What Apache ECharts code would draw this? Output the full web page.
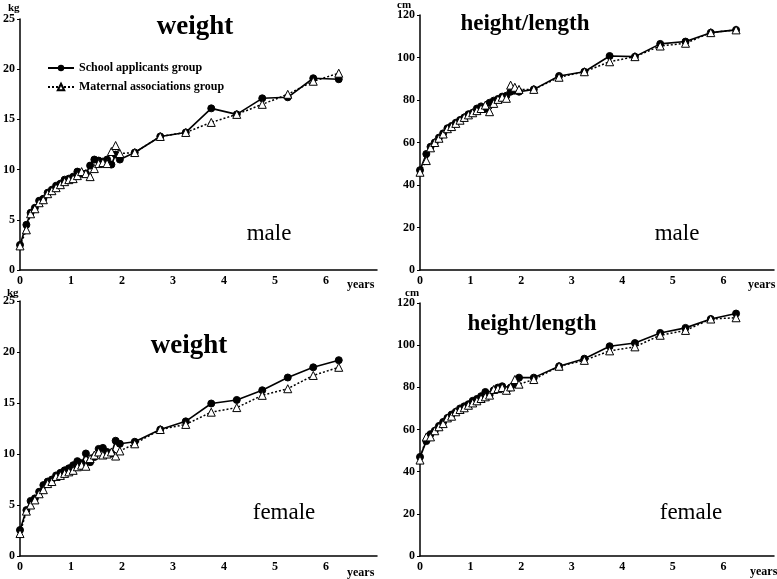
<!DOCTYPE html>
<html><head><meta charset="utf-8">
<script src="https://cdn.jsdelivr.net/npm/echarts@6/dist/echarts.min.js"></script>
<style>html,body{margin:0;padding:0;background:#fff}#c{width:777px;height:579px}</style>
</head><body><div id="c"></div>
<script>
const ages = [0, 0.125, 0.208, 0.292, 0.375, 0.458, 0.542, 0.625, 0.708, 0.792, 0.875, 0.958, 1.042, 1.125, 1.208, 1.292, 1.375, 1.458, 1.542, 1.625, 1.708, 1.792, 1.875, 1.958, 2.25, 2.75, 3.25, 3.75, 4.25, 4.75, 5.25, 5.75, 6.25];
const xTicks = [0, 1, 2, 3, 4, 5, 6];
const seriesNames = ['School applicants group', 'Maternal associations group'];

const maleWeightSchool = [2.5, 4.5, 5.7, 6.2, 6.9, 7.1, 7.7, 8.0, 8.4, 8.6, 9.0, 9.1, 9.3, 9.8, 9.6, 9.6, 10.4, 11.0, 10.9, 10.8, 11.0, 10.5, 11.5, 11.0, 11.7, 13.3, 13.7, 16.1, 15.5, 17.1, 17.2, 19.1, 19.0];
const maleWeightMaternal = [2.4, 4.0, 5.6, 6.1, 6.7, 7.0, 7.6, 7.9, 8.2, 8.5, 8.8, 9.0, 9.1, 9.4, 9.8, 9.6, 9.3, 10.1, 10.6, 10.7, 10.6, 11.8, 12.4, 11.6, 11.7, 13.3, 13.7, 14.7, 15.5, 16.5, 17.5, 18.8, 19.6];
const maleHeightSchool = [47, 54.6, 58, 60, 62.3, 64.3, 66.7, 67.8, 69.3, 70.6, 71.8, 73.3, 74, 76, 77, 75.8, 78.7, 79.7, 80.5, 81.6, 82, 83.9, 84.4, 83.9, 85, 91.3, 93.3, 100.7, 100.4, 106.4, 107.5, 111.7, 113];
const maleHeightMaternal = [46, 51.5, 57.5, 60, 62, 64, 66.5, 67.5, 69, 70.5, 71.8, 73, 74, 75, 76, 77.6, 74.5, 78.4, 80.3, 81.3, 80.8, 87, 86, 85, 85, 90.7, 93.3, 98, 100.4, 105.4, 106.7, 111.7, 113];
const femaleWeightSchool = [2.55, 4.5, 5.4, 5.65, 6.3, 6.95, 7.3, 7.5, 7.9, 8.15, 8.4, 8.6, 8.9, 9.3, 9.1, 10.05, 9.2, 9.7, 10.5, 10.6, 10.2, 10.05, 11.3, 11.0, 11.2, 12.4, 13.2, 14.95, 15.3, 16.25, 17.5, 18.5, 19.2];
const femaleWeightMaternal = [2.2, 4.4, 5.0, 5.5, 6.1, 6.5, 7.1, 7.3, 7.8, 7.9, 8.1, 8.25, 8.4, 8.75, 8.9, 8.8, 9.55, 9.9, 10.2, 9.9, 10.0, 10.2, 9.8, 10.3, 11.0, 12.4, 12.9, 14.1, 14.55, 15.75, 16.4, 17.7, 18.5];
const femaleHeightSchool = [47, 54.5, 57.8, 59.4, 61.7, 63.6, 65.5, 67.1, 68.4, 70, 71, 72, 73.6, 74.5, 75.8, 77.8, 76.3, 78.6, 79.9, 80.5, 78.6, 79.9, 81.5, 84.6, 84.6, 90, 93.6, 99.5, 101, 105.8, 108.2, 112.4, 115];
const femaleHeightMaternal = [45.5, 56.5, 56.5, 59.4, 61.3, 62.8, 65.5, 66.3, 68.4, 69.5, 70.3, 71.5, 72.6, 73.6, 74.7, 75.5, 76.3, 79, 79.4, 79.9, 78.6, 80.2, 83.7, 81.5, 83.7, 90, 92.8, 97.3, 99.2, 104.7, 107, 112.4, 113];

const weightTicks = {min: 0, max: 25, interval: 5};
const heightTicks = {min: 0, max: 120, interval: 20};

const FONT = '"Liberation Serif", "DejaVu Serif", serif';
const pair = arr => arr.map((v, i) => [ages[i], v]);

const grids = [
  {left: 20, top: 19, width: 357, height: 251},
  {left: 420, top: 15, width: 354, height: 255},
  {left: 20, top: 301, width: 357, height: 255},
  {left: 420, top: 303, width: 354, height: 253}
];
const yCfg = [weightTicks, heightTicks, weightTicks, heightTicks];
const panels = [
  [maleWeightSchool, maleWeightMaternal],
  [maleHeightSchool, maleHeightMaternal],
  [femaleWeightSchool, femaleWeightMaternal],
  [femaleHeightSchool, femaleHeightMaternal]
];

const axisLine = {show: true, onZero: false, lineStyle: {color: '#000', width: 1.5}};
const labelStyle = {color: '#000', fontFamily: FONT, fontWeight: 'bold', fontSize: 12};

const xAxis = grids.map((g, i) => ({
  type: 'value', gridIndex: i, min: 0, max: 7, interval: 1,
  axisLine, axisTick: {show: false}, splitLine: {show: false},
  axisLabel: Object.assign({}, labelStyle, {margin: 5, formatter: v => xTicks.includes(v) ? String(v) : ''})
}));
const yAxis = grids.map((g, i) => ({
  type: 'value', gridIndex: i, min: yCfg[i].min, max: yCfg[i].max, interval: yCfg[i].interval,
  axisLine, axisTick: {show: true, length: 3, lineStyle: {color: '#000'}}, splitLine: {show: false},
  axisLabel: Object.assign({}, labelStyle, {margin: 5})
}));

const series = [];
panels.forEach((p, i) => {
  series.push({
    name: seriesNames[0], type: 'line', xAxisIndex: i, yAxisIndex: i, data: pair(p[0]),
    symbol: 'circle', symbolSize: 7, z: 2,
    lineStyle: {color: '#000', width: 1.6, type: 'solid'},
    itemStyle: {color: '#000', borderColor: '#000'}
  });
  series.push({
    name: seriesNames[1], type: 'line', xAxisIndex: i, yAxisIndex: i, data: pair(p[1]),
    symbol: 'triangle', symbolSize: 8, z: 3,
    lineStyle: {color: '#000', width: 1.5, type: [2, 2]},
    itemStyle: {color: '#fff', borderColor: '#000', borderWidth: 1}
  });
});

function txt(x, y, t, size, weight, align) {
  return {type: 'text', x, y, style: {text: t, font: (weight || 'bold') + ' ' + size + 'px ' + FONT, fill: '#000', align: align || 'left', verticalAlign: 'middle'}};
}

const option = {
  animation: false,
  backgroundColor: '#fff',
  grid: grids,
  xAxis, yAxis, series,
  legend: {
    data: seriesNames, orient: 'vertical', left: 42, top: 57, itemGap: 7,
    itemWidth: 26, itemHeight: 8,
    textStyle: {fontFamily: FONT, fontWeight: 'bold', fontSize: 12, color: '#000'}
  },
  graphic: [
    txt(195, 27, 'weight', 27, 'bold', 'center'),
    txt(525, 24, 'height/length', 23, 'bold', 'center'),
    txt(189, 346, 'weight', 27, 'bold', 'center'),
    txt(532, 324, 'height/length', 23, 'bold', 'center'),
    txt(269, 234, 'male', 23, 'normal', 'center'),
    txt(677, 234, 'male', 23, 'normal', 'center'),
    txt(284, 513, 'female', 23, 'normal', 'center'),
    txt(691, 513, 'female', 23, 'normal', 'center'),
    txt(8, 8, 'kg', 11), txt(397, 5, 'cm', 11),
    txt(7, 293, 'kg', 11), txt(405, 293, 'cm', 11),
    txt(347, 285, 'years', 12), txt(748, 285, 'years', 12),
    txt(347, 573, 'years', 12), txt(750, 572, 'years', 12)
  ]
};
echarts.init(document.getElementById('c')).setOption(option);
</script></body></html>
